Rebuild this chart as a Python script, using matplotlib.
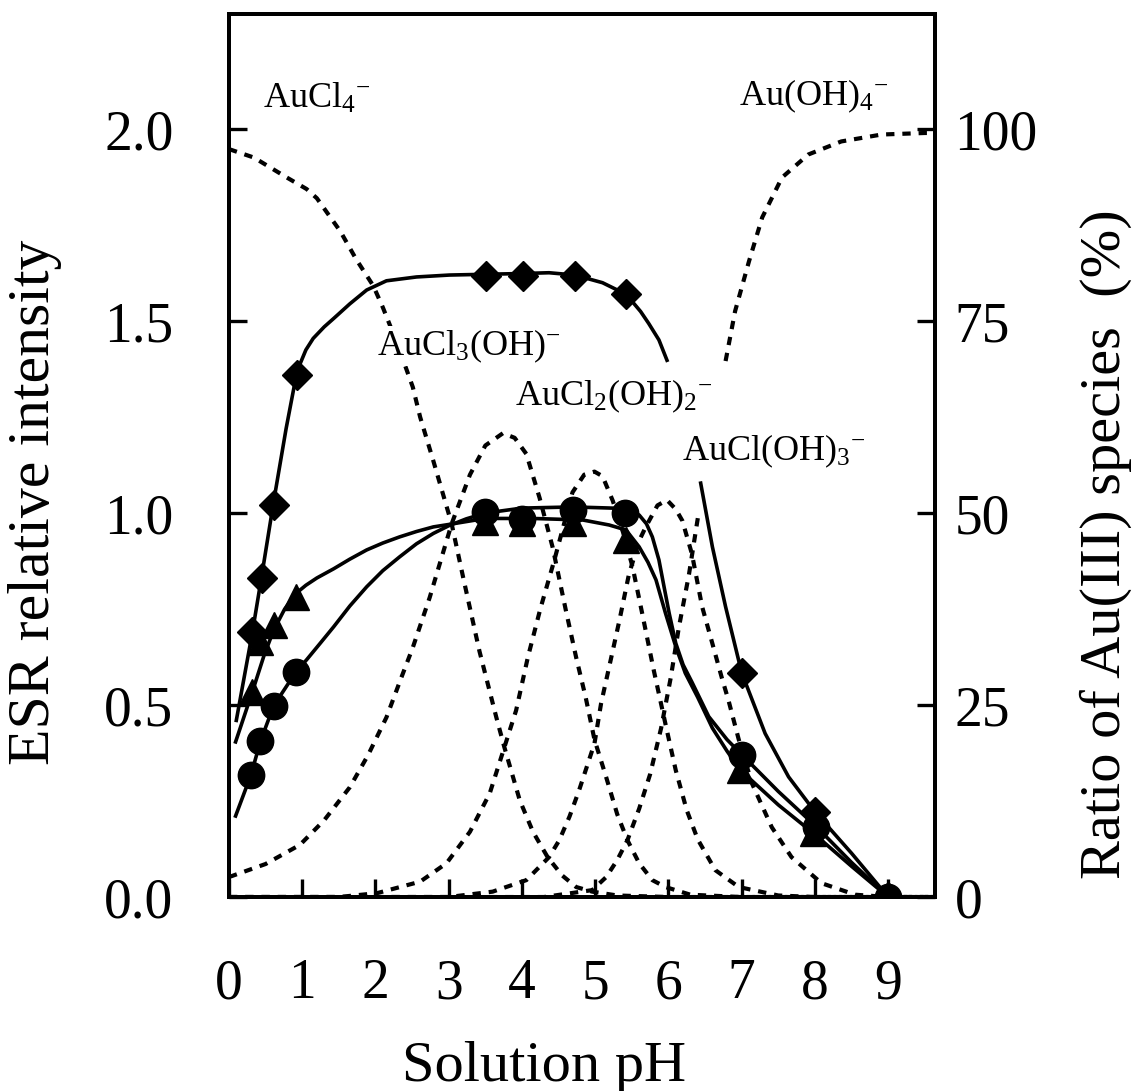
import matplotlib
matplotlib.use("Agg")
import matplotlib.pyplot as plt

plt.rcParams['font.family'] = 'Liberation Serif'
plt.rcParams['mathtext.fontset'] = 'custom'
plt.rcParams['mathtext.rm'] = 'Liberation Serif'
plt.rcParams['mathtext.it'] = 'Liberation Serif:italic'

# ESR intensities (left axis)
ph_dia = [0.32, 0.45, 0.61, 0.93, 3.51, 4.01, 4.72, 5.42, 7.0, 8.0, 9.0]
esr_dia = [0.69, 0.83, 1.02, 1.36, 1.617, 1.617, 1.617, 1.57, 0.584, 0.222, 0.0]

ph_cir = [0.30, 0.43, 0.61, 0.91, 3.50, 4.00, 4.70, 5.40, 7.0, 8.02, 9.0]
esr_cir = [0.318, 0.406, 0.498, 0.585, 1.003, 0.984, 1.008, 1.001, 0.371, 0.183, 0.0]

ph_tri = [0.32, 0.43, 0.61, 0.92, 3.50, 4.00, 4.70, 5.42, 6.98, 7.98, 9.0]
esr_tri = [0.535, 0.665, 0.708, 0.782, 0.977, 0.975, 0.973, 0.93, 0.331, 0.166, 0.0]

# fitted curves through the ESR data
fit_dia_ph1 = [0.10, 0.32, 0.45, 0.61, 0.78, 0.93, 1.05, 1.15, 1.3, 1.43, 1.65, 1.88,
               2.15, 2.56, 3.01, 3.51, 4.01, 4.37, 4.72, 5.1, 5.42, 5.51, 5.62, 5.73,
               5.87, 5.98]
fit_dia_y1 = [0.46, 0.69, 0.84, 1.03, 1.22, 1.37, 1.425, 1.455, 1.485, 1.507, 1.545,
              1.581, 1.605, 1.615, 1.62, 1.622, 1.624, 1.626, 1.62, 1.60, 1.57, 1.55,
              1.525, 1.494, 1.451, 1.398]
fit_dia_ph2 = [6.44, 6.6, 6.78, 7.0, 7.32, 7.64, 8.0, 8.5, 9.0]
fit_dia_y2 = [1.078, 0.912, 0.756, 0.584, 0.426, 0.313, 0.222, 0.114, 0.0]

fit_cir_ph = [0.09, 0.30, 0.43, 0.61, 0.91, 1.06, 1.25, 1.43, 1.65, 1.88, 2.1, 2.33,
              2.56, 2.79, 3.0, 3.24, 3.5, 4.0, 4.7, 5.4, 5.6, 5.7, 5.78, 5.87, 5.94,
              6.01, 6.10, 6.2, 6.32, 6.55, 6.8, 7.0, 7.5, 8.02, 8.5, 9.0]
fit_cir_y = [0.211, 0.318, 0.406, 0.498, 0.585, 0.618, 0.662, 0.704, 0.758, 0.808,
             0.85, 0.886, 0.92, 0.947, 0.967, 0.985, 1.0, 1.013, 1.016, 1.012, 0.995,
             0.972, 0.938, 0.878, 0.808, 0.739, 0.661, 0.605, 0.56, 0.47, 0.41,
             0.371, 0.275, 0.183, 0.09, 0.0]

fit_tri_ph = [0.09, 0.32, 0.48, 0.61, 0.76, 0.91, 1.05, 1.2, 1.43, 1.65, 1.88, 2.1,
              2.33, 2.56, 2.79, 2.99, 3.5, 4.15, 4.83, 5.19, 5.42, 5.6, 5.72, 5.83,
              5.96, 6.10, 6.23, 6.4, 6.6, 6.8, 6.98, 7.5, 7.98, 8.5, 9.0]
fit_tri_y = [0.404, 0.535, 0.63, 0.695, 0.75, 0.79, 0.812, 0.831, 0.855, 0.88,
             0.904, 0.922, 0.938, 0.952, 0.964, 0.97, 0.986, 0.986, 0.982, 0.969,
             0.956, 0.912, 0.872, 0.826, 0.739, 0.652, 0.583, 0.52, 0.44, 0.38,
             0.331, 0.24, 0.166, 0.08, 0.0]

# Au(III) species distribution (right axis, %)
ph_aucl4 = [0.0, 0.34, 0.79, 1.06, 1.2, 1.52, 1.74, 1.97, 2.1, 2.3, 2.51, 2.61,
            2.79, 3.04, 3.2, 3.42, 3.65, 3.76, 3.97, 4.15, 4.35, 4.55, 4.74,
            4.96, 5.3, 6.0, 9.64]
pct_aucl4 = [97.4, 96.3, 93.7, 92.2, 91.0, 86.7, 83.0, 79.6, 76.8, 72.0, 66.4,
             62.5, 56.8, 48.6, 41.5, 32.0, 23.4, 19.5, 12.6, 8.5, 5.2, 2.8, 1.3,
             0.7, 0.2, 0.0, 0.0]

ph_aucl3 = [0.0, 0.5, 0.97, 1.3, 1.65, 1.9, 2.15, 2.35, 2.51, 2.74, 3.04, 3.29,
            3.5, 3.74, 3.9, 4.06, 4.24, 4.42, 4.60, 4.74, 4.87, 4.99, 5.15, 5.3,
            5.44, 5.6, 5.78, 5.96, 6.3, 7.0, 9.64]
pct_aucl3 = [2.6, 4.3, 6.8, 10.0, 14.3, 18.5, 23.4, 28.5, 32.5, 39.0, 48.6, 55.0,
             58.8, 60.4, 59.8, 57.7, 52.0, 45.5, 37.3, 31.2, 26.0, 20.5, 15.6,
             10.8, 7.4, 4.4, 2.2, 1.3, 0.3, 0.0, 0.0]

ph_aucl2 = [0.0, 1.5, 2.02, 2.61, 2.97, 3.29, 3.56, 3.76, 3.92, 4.08, 4.25, 4.44,
            4.69, 4.85, 4.99, 5.1, 5.24, 5.38, 5.51, 5.64, 5.8, 5.96, 6.1, 6.25,
            6.4, 6.64, 6.96, 7.5, 8.0, 9.64]
pct_aucl2 = [0.0, 0.0, 0.5, 2.0, 4.4, 8.5, 13.5, 19.5, 24.3, 31.2, 37.5, 43.8,
             52.7, 55.0, 55.4, 54.8, 51.6, 47.5, 43.0, 37.0, 29.5, 22.5, 16.5,
             11.3, 7.5, 3.5, 1.3, 0.2, 0.0, 0.0]

ph_aucl1 = [0.0, 3.0, 3.6, 4.06, 4.37, 4.51, 4.65, 4.78, 4.99, 5.08, 5.24, 5.33,
            5.46, 5.6, 5.69, 5.85, 5.98, 6.1, 6.19, 6.32, 6.46, 6.6, 6.73, 6.82,
            6.96, 7.14, 7.41, 7.68, 8.09, 8.55, 9.0, 9.64]
pct_aucl1 = [0.0, 0.0, 0.7, 2.2, 5.2, 7.4, 10.5, 13.9, 20.0, 25.2, 32.1, 36.0,
             42.0, 46.4, 48.2, 51.0, 51.7, 50.5, 49.0, 44.7, 37.8, 33.0, 28.5,
             25.6, 20.5, 14.8, 9.1, 5.2, 1.8, 0.3, 0.0, 0.0]

ph_auoh4_a = [0.0, 4.3, 4.96, 5.15, 5.3, 5.44, 5.6, 5.75, 5.9, 6.03, 6.14, 6.28, 6.41]
pct_auoh4_a = [0.0, 0.0, 0.9, 2.6, 4.8, 7.4, 11.5, 16.0, 22.0, 28.5, 35.0, 42.0, 49.9]
ph_auoh4_b = [6.78, 6.91, 7.10, 7.28, 7.55, 7.91, 8.36, 8.91, 9.5, 9.64]
pct_auoh4_b = [69.8, 76.3, 82.8, 88.5, 93.7, 96.7, 98.4, 99.3, 99.5, 99.5]

# species labels: (text, pH, ESR-axis height of baseline)
species_labels = [
    (r'AuCl$_4$$^{-}$', 0.46, 2.055),
    (r'Au(OH)$_4$$^{-}$', 6.96, 2.062),
    (r'AuCl$_3$(OH)$^{-}$', 2.02, 1.411),
    (r'AuCl$_2$(OH)$_2$$^{-}$', 3.90, 1.281),
    (r'AuCl(OH)$_3$$^{-}$', 6.18, 1.138),
]

fig = plt.figure(figsize=(11.33, 10.91), dpi=100)
ax = fig.add_axes([0.2021, 0.1778, 0.6232, 0.8094])
ax2 = ax.twinx()
ax.set_zorder(ax2.get_zorder() + 1)
ax.patch.set_visible(False)

dot = dict(color='black', lw=3.0, linestyle=(0, (2.0, 1.9)))
ax2.plot(ph_aucl4, pct_aucl4, **dot)
ax2.plot(ph_aucl3, pct_aucl3, **dot)
ax2.plot(ph_aucl2, pct_aucl2, **dot)
ax2.plot(ph_aucl1, pct_aucl1, **dot)
ax2.plot(ph_auoh4_a, pct_auoh4_a, **dot)
ax2.plot(ph_auoh4_b, pct_auoh4_b, **dot)

solid = dict(color='black', lw=2.6, zorder=3)
ax.plot(fit_dia_ph1, fit_dia_y1, **solid)
ax.plot(fit_dia_ph2, fit_dia_y2, **solid)
ax.plot(fit_cir_ph, fit_cir_y, **solid)
ax.plot(fit_tri_ph, fit_tri_y, **solid)

ax.plot(ph_tri, esr_tri, '^', color='black', ms=19, zorder=4)
ax.plot(ph_cir, esr_cir, 'o', color='black', ms=19, zorder=5)
ax.plot(ph_dia, esr_dia, 'D', color='black', ms=15.5, zorder=6)

for txt, xx, yy in species_labels:
    ax.text(xx, yy, txt, fontsize=26, ha='left', va='baseline', zorder=10,
            bbox=dict(facecolor='white', edgecolor='none', pad=1))

ax.set_xlim(0, 9.64)
ax.set_ylim(0, 2.3)
ax2.set_ylim(0, 115)
ax.set_xticks(range(10))
ax.set_yticks([0.0, 0.5, 1.0, 1.5, 2.0])
ax.set_yticklabels(['0.0', '0.5', '1.0', '1.5', '2.0'])
ax2.set_yticks([0, 25, 50, 75, 100])

for a in (ax, ax2):
    for s in a.spines.values():
        s.set_linewidth(2.8)
ax.tick_params(axis='both', direction='in', length=13, width=2.4, labelsize=40)
ax.tick_params(axis='y', pad=40)
ax.tick_params(axis='x', pad=44)
ax2.tick_params(axis='y', direction='in', length=13, width=2.4, labelsize=40, pad=14)

ax.set_xlabel('Solution pH', fontsize=42)
ax.xaxis.set_label_coords(0.446, -0.163)
ax.set_ylabel('ESR relative intensity', fontsize=43)
ax.yaxis.set_label_coords(-0.236, 0.447)
ax2.set_ylabel('Ratio of Au(III) species  (%)', fontsize=42)
ax2.yaxis.set_label_coords(1.205, 0.40)

fig.savefig('out.png', dpi=100)
